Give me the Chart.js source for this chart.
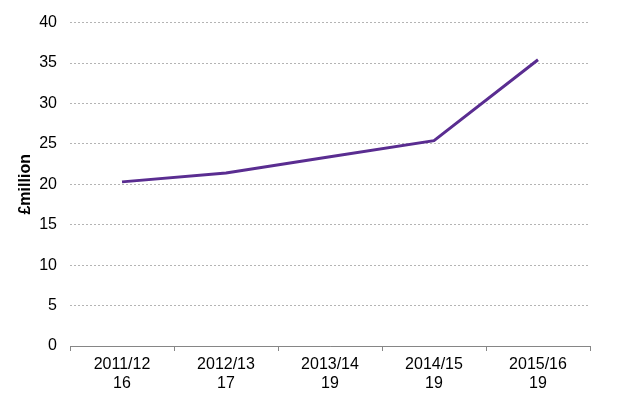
<!DOCTYPE html>
<html>
<head>
<meta charset="utf-8">
<script src="https://cdn.jsdelivr.net/npm/chart.js@4/dist/chart.umd.min.js"></script>
<style>
  html, body { margin: 0; padding: 0; background: #fff; }
  #wrap { width: 626px; height: 395px; }
</style>
</head>
<body>
<div id="wrap"><canvas id="spendChart" width="626" height="395"></canvas></div>
<script>
const years = ['2011/12', '2012/13', '2013/14', '2014/15', '2015/16'];
const counts = ['16', '17', '19', '19', '19'];
const spend = [20.3, 21.4, 23.4, 25.4, 35.4];

const labels = years.map((y, i) => [y, counts[i]]);
const tickFont = { family: 'Liberation Sans, Arial, sans-serif', size: 16 };

new Chart(document.getElementById('spendChart'), {
  type: 'line',
  data: {
    labels: labels,
    datasets: [{
      data: spend,
      borderColor: '#5a2d91',
      borderWidth: 3,
      pointRadius: 0,
      tension: 0,
      fill: false
    }]
  },
  options: {
    responsive: false,
    animation: false,
    layout: { padding: { top: 14, right: 36, left: 0, bottom: 0 } },
    plugins: { legend: { display: false }, tooltip: { enabled: false } },
    scales: {
      x: {
        offset: true,
        grid: { offset: true, drawOnChartArea: false, drawTicks: true, tickLength: 5, color: '#868686' },
        border: { color: '#868686', width: 1 },
        ticks: { color: '#000', font: tickFont, padding: 4, maxRotation: 0 },
        afterFit(scale) { scale.height = 49; }
      },
      y: {
        min: 0,
        max: 40,
        ticks: { stepSize: 5, color: '#000', font: tickFont, padding: 13 },
        grid: { color: '#b4b4b4', drawTicks: false },
        border: { display: false, dash: [2, 2] },
        title: {
          display: true,
          text: '£million',
          color: '#000',
          font: { family: 'Liberation Sans, Arial, sans-serif', size: 16, weight: 'bold' },
          padding: { top: 16, bottom: 0 }
        },
        afterFit(scale) { scale.width = 70; }
      }
    }
  }
});
</script>
</body>
</html>
